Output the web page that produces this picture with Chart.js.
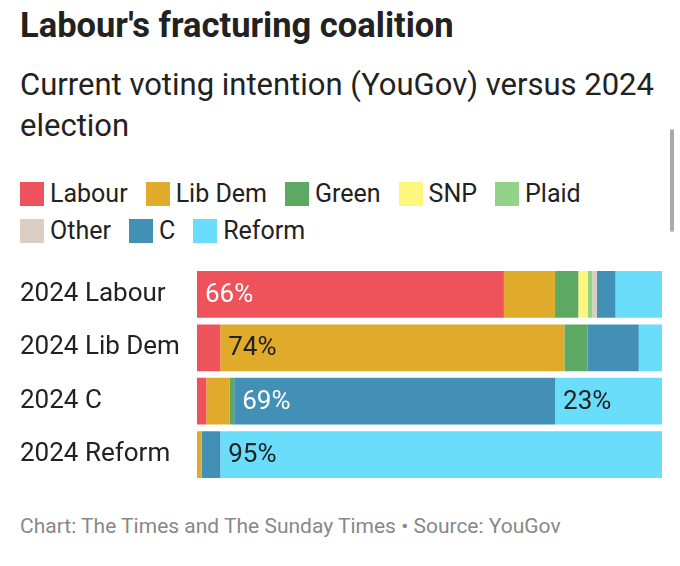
<!DOCTYPE html>
<html>
<head>
<meta charset="utf-8">
<script src="https://cdn.jsdelivr.net/npm/chart.js@4.4.1/dist/chart.umd.min.js"></script>
<style>
  body { margin: 0; background: #fff; font-family: Roboto, sans-serif; color: #222; }
  .page { position: relative; width: 680px; height: 566px; overflow: hidden; }
  .title { position: absolute; left: 20px; top: 5px; font-size: 34.5px; font-weight: 700; line-height: 40px; color: #222; white-space: nowrap; }
  .subtitle { position: absolute; left: 20px; top: 64px; width: 650px; font-size: 31px; line-height: 41px; color: #222; }
  .legend { position: absolute; left: 20px; top: 175px; width: 630px; display: flex; flex-wrap: wrap; }
  .legend-item { display: flex; align-items: center; height: 37px; margin-right: 18px; font-size: 25px; color: #222; }
  .legend-swatch { width: 24px; height: 24px; margin-right: 6px; }
  .chart-box { position: absolute; left: 20px; top: 252px; width: 642px; height: 245px; }
  .footer { position: absolute; left: 20px; top: 513px; font-size: 21px; line-height: 26px; color: #888; white-space: nowrap; }
  .scroll { position: absolute; left: 670px; top: 129px; width: 4px; height: 103px; background: #aaa; border-radius: 2px; }
</style>
</head>
<body>
<div class="page">
  <div class="title">Labour's fracturing coalition</div>
  <div class="subtitle">Current voting intention (YouGov) versus 2024 election</div>
  <div class="legend" id="legend"></div>
  <div class="chart-box"><canvas id="chart"></canvas></div>
  <div class="footer">Chart: The Times and The Sunday Times • Source: YouGov</div>
  <div class="scroll"></div>
</div>
<script>
const categories = ['2024 Labour', '2024 Lib Dem', '2024 C', '2024 Reform'];
const parties = ['Labour', 'Lib Dem', 'Green', 'SNP', 'Plaid', 'Other', 'C', 'Reform'];
const colors = ['#ee525a', '#e0aa2a', '#5da862', '#fff67d', '#94d28a', '#dacdc4', '#4290b6', '#6addfa'];
const labelColors = ['#fff', '#222', '#222', '#222', '#222', '#222', '#fff', '#222'];

// share of each 2024 group now backing each party (%)
const labour = [66, 5, 2, 0];
const libDem = [11, 74, 5, 1];
const green = [5, 5, 1, 0];
const snp = [2, 0, 0, 0];
const plaid = [1, 0, 0, 0];
const other = [1, 0, 0, 0];
const con = [4, 11, 69, 4];
const reform = [10, 5, 23, 95];

const seriesValues = [labour, libDem, green, snp, plaid, other, con, reform];

const legendEl = document.getElementById('legend');
parties.forEach((p, i) => {
  const item = document.createElement('div');
  item.className = 'legend-item';
  item.innerHTML = '<span class="legend-swatch" style="background:' + colors[i] + '"></span>' + p;
  legendEl.appendChild(item);
});

const segmentLabels = {
  id: 'segmentLabels',
  afterDatasetsDraw(chart) {
    const ctx = chart.ctx;
    ctx.save();
    ctx.font = '26px Roboto';
    ctx.textBaseline = 'middle';
    ctx.textAlign = 'left';
    chart.data.datasets.forEach((ds, i) => {
      const meta = chart.getDatasetMeta(i);
      meta.data.forEach((bar, j) => {
        const v = ds.data[j];
        if (v < 20) return;
        ctx.fillStyle = labelColors[i];
        ctx.fillText(v + '%', Math.min(bar.base, bar.x) + 8, bar.y + 1);
      });
    });
    ctx.restore();
  }
};

new Chart(document.getElementById('chart'), {
  type: 'bar',
  data: {
    labels: categories,
    datasets: parties.map((p, i) => ({
      label: p,
      data: seriesValues[i],
      backgroundColor: colors[i],
      borderWidth: 0,
      barPercentage: 0.875,
      categoryPercentage: 1
    }))
  },
  options: {
    indexAxis: 'y',
    responsive: true,
    maintainAspectRatio: false,
    animation: false,
    layout: { padding: 0 },
    scales: {
      x: { stacked: true, min: 0, max: 100, display: false },
      y: {
        stacked: true,
        grid: { display: false },
        border: { display: false },
        ticks: { crossAlign: 'far', color: '#222', font: { family: 'Roboto', size: 26 }, padding: 0 },
        afterFit(scale) { scale.width = 177; }
      }
    },
    plugins: {
      legend: { display: false },
      tooltip: { enabled: false }
    }
  },
  plugins: [segmentLabels]
});
</script>
</body>
</html>
